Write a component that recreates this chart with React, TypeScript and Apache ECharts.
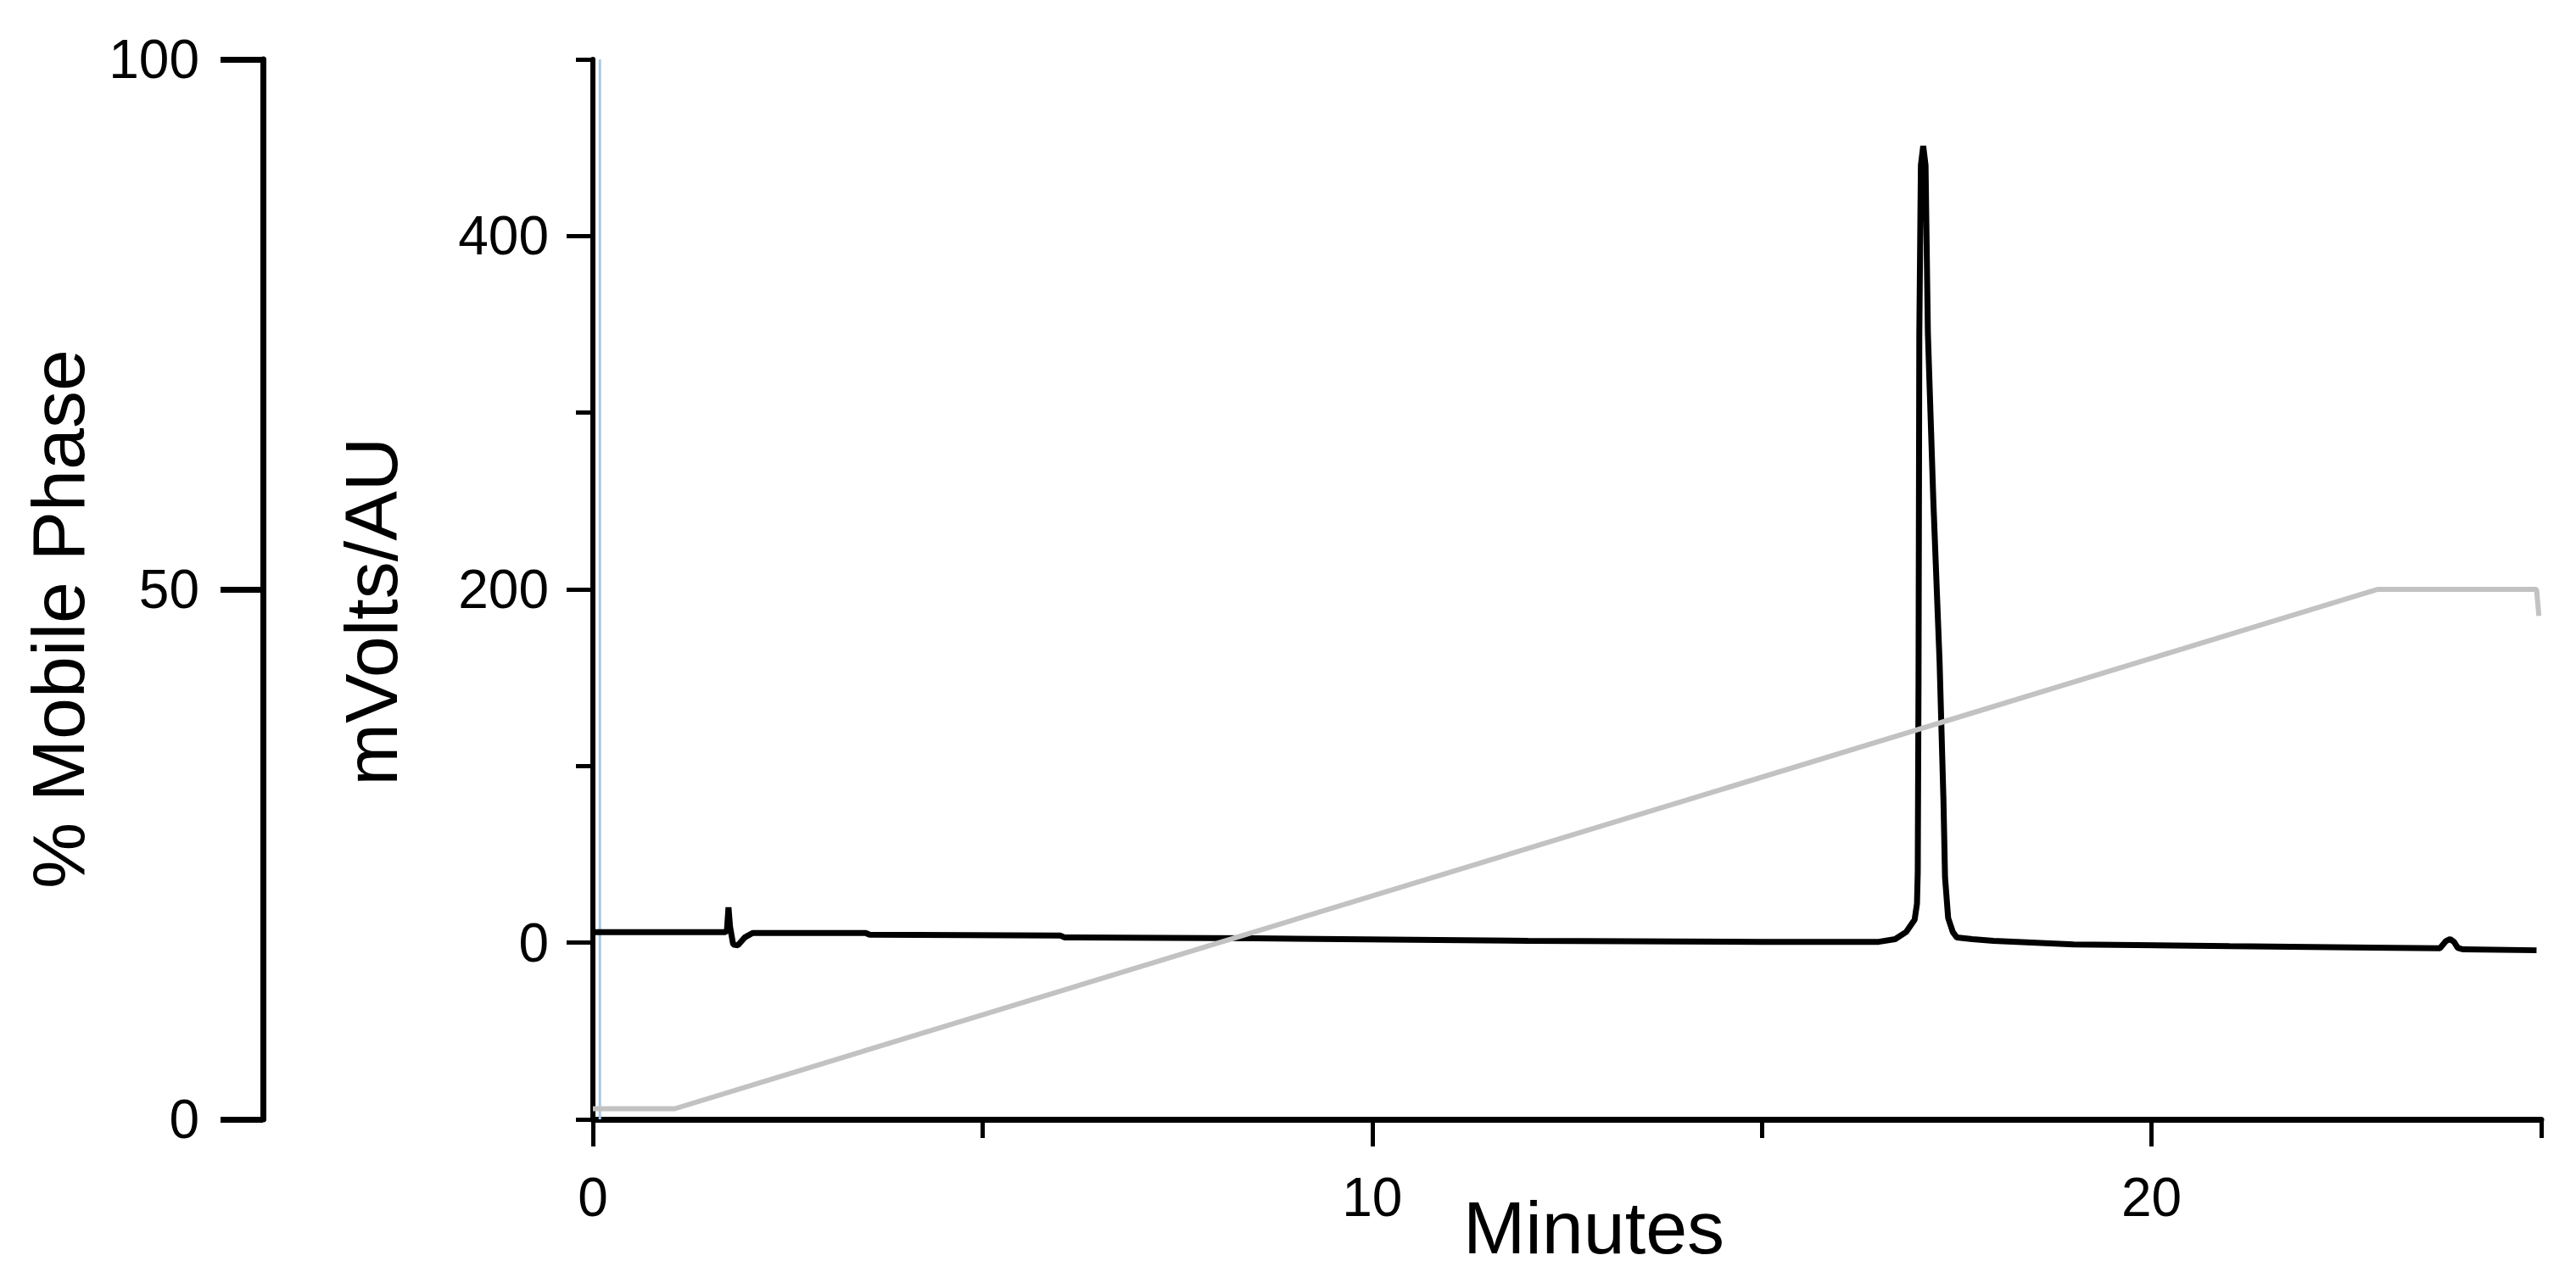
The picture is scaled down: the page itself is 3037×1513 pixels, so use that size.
import React, { useEffect, useRef } from "react";
import * as echarts from "echarts";

// Chromatogram trace (minutes, mVolts/AU)
const chromTime = [
  0, 1.7, 1.72, 1.74, 1.76, 1.8, 1.86, 1.95, 2.05, 3.5, 3.55, 6.0, 6.05, 8.5, 12.0, 15.0, 16.5,
  16.71, 16.85, 16.96, 16.99, 17.0, 17.01, 17.02, 17.04, 17.07, 17.1, 17.13, 17.2, 17.28, 17.33,
  17.35, 17.39, 17.45, 17.5, 17.7, 17.97, 19.0, 21.0, 23.7, 23.78, 23.83, 23.88, 23.93, 24.0, 24.94,
];
const chromMv = [
  6, 6, 7, 20, 9, -1, -1.5, 3, 5.5, 5.5, 4.5, 4, 3, 2.5, 1, 0.5, 0.5,
  2, 6, 13, 22, 40, 150, 345, 440, 451, 440, 345, 250, 159, 80,
  37, 14, 6, 3, 2, 1, -1, -2, -3.2, 1, 2, 0.5, -3, -3.8, -4.3,
];

// Mobile phase gradient (minutes, %)
const gradTime = [0, 1.05, 22.9, 24.94, 24.97];
const gradPct = [1, 1, 50, 50, 47.5];

// Injection marker
const injTime = [0.09, 0.09];
const injMv = [-100, 500];

// Ticks
const xMajor = [0, 10, 20];
const xMinor = [5, 15, 25];
const mvMajor = [0, 200, 400];
const mvMinor = [-100, 100, 300, 500];
const pctTicks = [0, 50, 100];

const FONT = "'Liberation Sans', Arial, sans-serif";

export default function App() {
  const ref = useRef<HTMLDivElement>(null);
  useEffect(() => {
    if (!ref.current) return;
    const chart = echarts.init(ref.current, null, { renderer: "svg" });
    const zip = (a: number[], b: number[]) => a.map((v, i) => [v, b[i]]);
    const option: any = {
      animation: false,
      backgroundColor: "#ffffff",
      grid: { left: 699, right: 41, top: 70, bottom: 193, containLabel: false, outerBoundsMode: "none" },
      xAxis: [
        {
          type: "value",
          min: 0,
          max: 25,
          position: "bottom",
          axisLine: { show: true, onZero: false, lineStyle: { color: "#000", width: 7 } },
          axisTick: { show: true, customValues: xMajor, length: 32, lineStyle: { color: "#000", width: 5 } },
          axisLabel: { show: true, customValues: xMajor, fontSize: 64, color: "#000", fontFamily: FONT, margin: 60 },
          splitLine: { show: false },
        },
        {
          type: "value",
          min: 0,
          max: 25,
          position: "bottom",
          axisLine: { show: false, onZero: false },
          axisTick: { show: true, customValues: xMinor, length: 22, lineStyle: { color: "#000", width: 5 } },
          axisLabel: { show: false },
          splitLine: { show: false },
        },
      ],
      yAxis: [
        {
          type: "value",
          min: -100,
          max: 500,
          position: "left",
          offset: 0,
          axisLine: { show: true, onZero: false, lineStyle: { color: "#000", width: 6 } },
          axisTick: { show: true, customValues: mvMajor, length: 31, lineStyle: { color: "#000", width: 5 } },
          axisLabel: { show: true, customValues: mvMajor, fontSize: 64, color: "#000", fontFamily: FONT, margin: 52 },
          splitLine: { show: false },
        },
        {
          type: "value",
          min: -100,
          max: 500,
          position: "left",
          offset: 0,
          axisLine: { show: false, onZero: false },
          axisTick: { show: true, customValues: mvMinor, length: 20, lineStyle: { color: "#000", width: 5 } },
          axisLabel: { show: false },
          splitLine: { show: false },
        },
        {
          type: "value",
          min: 0,
          max: 100,
          position: "left",
          offset: 389,
          axisLine: { show: true, onZero: false, lineStyle: { color: "#000", width: 7 } },
          axisTick: { show: true, customValues: pctTicks, length: 50, lineStyle: { color: "#000", width: 7 } },
          axisLabel: { show: true, customValues: pctTicks, fontSize: 64, color: "#000", fontFamily: FONT, margin: 75 },
          splitLine: { show: false },
        },
      ],
      series: [
        {
          type: "line",
          xAxisIndex: 0,
          yAxisIndex: 0,
          data: zip(injTime, injMv),
          symbol: "none",
          lineStyle: { color: "#a9c8e8", width: 3 },
          z: 1,
        },
        {
          type: "line",
          xAxisIndex: 0,
          yAxisIndex: 0,
          data: zip(chromTime, chromMv),
          symbol: "none",
          lineStyle: { color: "#000", width: 7 },
          z: 2,
        },
        {
          type: "line",
          xAxisIndex: 0,
          yAxisIndex: 2,
          data: zip(gradTime, gradPct),
          symbol: "none",
          lineStyle: { color: "#c2c2c2", width: 6 },
          z: 3,
        },
      ],
      graphic: [
        {
          type: "text",
          x: 68,
          y: 730,
          rotation: Math.PI / 2,
          style: { text: "% Mobile Phase", fontSize: 88, fontFamily: FONT, fill: "#000", textAlign: "center", textVerticalAlign: "middle" },
        },
        {
          type: "text",
          x: 437,
          y: 721,
          rotation: Math.PI / 2,
          style: { text: "mVolts/AU", fontSize: 88, fontFamily: FONT, fill: "#000", textAlign: "center", textVerticalAlign: "middle" },
        },
        {
          type: "text",
          x: 1879,
          y: 1447,
          style: { text: "Minutes", fontSize: 88, fontFamily: FONT, fill: "#000", textAlign: "center", textVerticalAlign: "middle" },
        },
      ],
    };
    chart.setOption(option);
    return () => chart.dispose();
  }, []);
  return (
    <div
      ref={ref}
      style={{ position: "fixed", left: 0, top: 0, width: 3037, height: 1513, background: "#fff" }}
    />
  );
}
